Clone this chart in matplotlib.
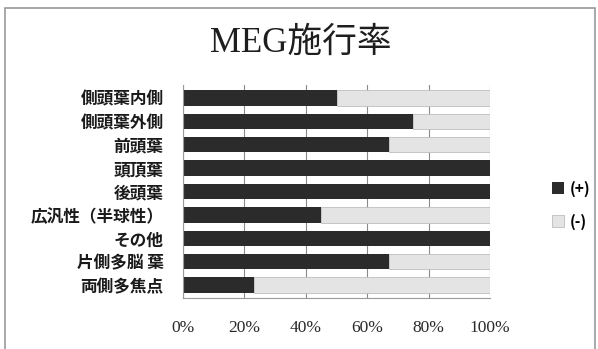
import numpy as np
import matplotlib.pyplot as plt
from matplotlib.patches import Rectangle

categories = ["側頭葉内側", "側頭葉外側", "前頭葉", "頭頂葉", "後頭葉",
              "広汎性（半球性）", "その他", "片側多脳 葉", "両側多焦点"]
pos_pct = [50, 75, 67, 100, 100, 45, 100, 67, 23]
neg_pct = [100 - v for v in pos_pct]
series_names = ["(+)", "(-)"]
tick_vals = [0, 20, 40, 60, 80, 100]

jp = ["Noto Sans CJK JP", "DejaVu Sans"]
serif_jp = ["Liberation Serif", "Noto Sans CJK JP"]

fig = plt.figure(figsize=(5.98, 3.49), dpi=100)
fig.patch.set_facecolor("white")

# outer chart frame
fig.patches.append(Rectangle((5 / 598, -0.05), 590 / 598, 1 - 8 / 349 + 0.05,
                             transform=fig.transFigure, fill=False,
                             edgecolor="#9a9a9a", linewidth=1.2))

ax = fig.add_axes([183 / 598, 1 - 298 / 349, 307 / 598, 213 / 349])
y = np.arange(len(categories))
ax.barh(y, pos_pct, height=0.66, color="#2b2b2b", label=series_names[0])
ax.barh(y, neg_pct, left=pos_pct, height=0.66, color="#e4e4e4",
        edgecolor="#bdbdbd", linewidth=0.6, label=series_names[1])

ax.set_xlim(0, 100)
ax.set_ylim(len(categories) - 0.45, -0.55)
ax.set_xticks(tick_vals)
ax.set_xticklabels([f"{v}%" for v in tick_vals], family=serif_jp,
                   fontsize=12.5, color="#2a2a2a")
ax.tick_params(axis="x", length=0, pad=16)
ax.set_yticks(y)
ax.set_yticklabels(categories, family=jp, fontsize=12, fontweight="bold",
                   color="#1a1a1a")
ax.tick_params(axis="y", length=0, pad=14)
ax.set_axisbelow(True)
ax.grid(axis="x", color="#8a8a8a", linewidth=0.8)
for side in ["top", "right"]:
    ax.spines[side].set_visible(False)
ax.spines["left"].set_color("#9a9a9a")
ax.spines["bottom"].set_color("#9a9a9a")

fig.text(301 / 598, 1 - 43 / 349, "MEG施行率", family=serif_jp, fontsize=25,
         ha="center", va="center", color="#1e1e1e")

leg = fig.legend(loc="center left", bbox_to_anchor=(538 / 598, 1 - 205 / 349),
                 frameon=False, handlelength=0.8, handleheight=0.8,
                 labelspacing=1.1, handletextpad=0.4,
                 prop={"family": jp, "size": 11, "weight": "bold"})

fig.savefig("out.png", dpi=100, facecolor="white")
